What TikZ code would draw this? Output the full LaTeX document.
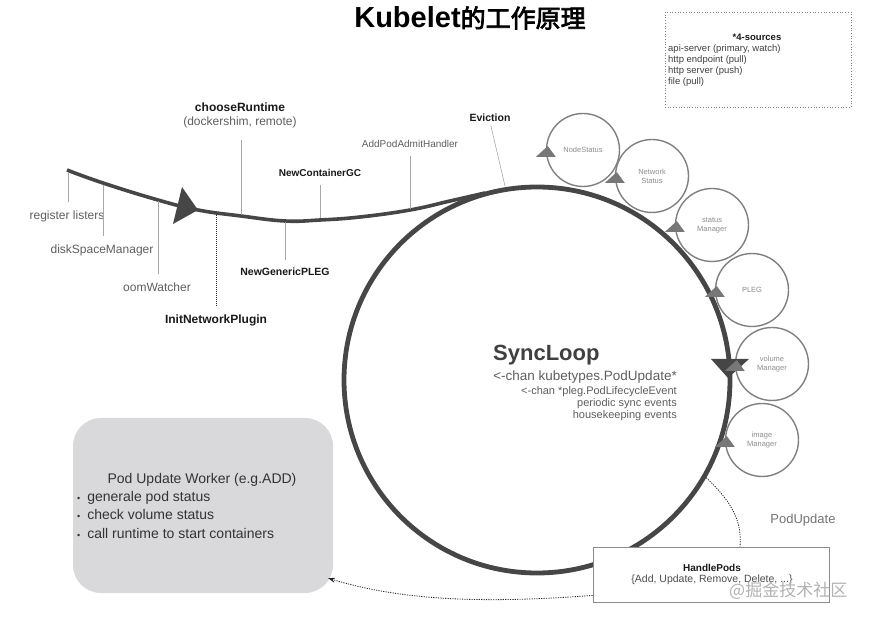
\documentclass[tikz,border=0pt]{standalone}
\usepackage{fontspec}
\setmainfont{Liberation Sans}
\newfontfamily\cjkfont[AutoFakeBold=3]{Noto Sans CJK SC}
\usetikzlibrary{positioning,arrows.meta,calc}
\definecolor{loopgray}{HTML}{464646}
\definecolor{labelgray}{HTML}{5E5E5E}
\definecolor{tickgray}{HTML}{A8A8A8}
\definecolor{workergray}{HTML}{D9D9DB}
\definecolor{markgray}{HTML}{777777}
\tikzstyle{lbl}=[text=labelgray, inner sep=0pt, font=\fontsize{12}{14}\selectfont]
\tikzstyle{blbl}=[text=black!90, inner sep=0pt, font=\bfseries\fontsize{10.5}{12}\selectfont]
\tikzstyle{tick}=[draw=tickgray, line width=0.6pt, shorten >=8pt]
\tikzstyle{loopline}=[draw=loopgray, line width=4.8pt]
\tikzstyle{agent}=[circle, draw=black!50, line width=1.4pt, minimum size=73pt, inner sep=0pt, text=black!45, align=center, font=\fontsize{7.5}{9}\selectfont]
\tikzstyle{dotline}=[draw=black!85, line width=0.8pt, dash pattern=on 1.2pt off 1.2pt]
\tikzstyle{wtext}=[text=black!80, inner sep=0pt, text height=10pt, text depth=3pt, font=\fontsize{14}{16}\selectfont]
\tikzset{
  uptri/.pic={\fill[markgray] (-10,7) -- (10,7) -- (2,-4) -- cycle;},
  downtri/.pic={\fill[loopgray] (-19,-4) -- (19,-4) -- (-2,15) -- cycle;}
}

\begin{document}
\begin{tikzpicture}[x=1pt,y=-1pt]
\useasboundingbox (0,0) rectangle (873,617);

% title
\node (title) at (470,18) {\bfseries\fontsize{29}{30}\selectfont Kubelet\cjkfont\fontsize{25}{26}\selectfont 的工作原理};

% sources
\node[draw=black!50, dotted, line width=0.7pt, minimum width=186pt, minimum height=95pt] (sources) at (758,59.5) {};
\node[blbl, font=\bfseries\fontsize{9.5}{11}\selectfont] (sourcestitle) at (757,37) {*4-sources};
\node[lbl, text=black!75, font=\fontsize{9.5}{11.3}\selectfont, anchor=north west, align=left] (sourcelist) at (668,44) {api-server (primary, watch)\\http endpoint (pull)\\http server (push)\\file (pull)};

% loop and entry curve
\node[circle, loopline, minimum size=386pt, inner sep=0pt] (syncloop) at (537,380) {};
\draw[loopline, line width=3.6pt] plot[smooth, tension=0.7] coordinates {(67,170) (103,183) (158,200) (198,210) (241,216) (285,221) (320,220) (360,217) (410,210) (450,201) (485,193)};
\fill[loopgray] (198,210) -- (173,224) -- (182,187) -- cycle;

\coordinate (onreg) at (68,172);
\coordinate (ondisk) at (103,185);
\coordinate (onoom) at (158,201);
\coordinate (oninit) at (216,215);
\coordinate (onchoose) at (241,215);
\coordinate (onpleg) at (285,222);
\coordinate (ongc) at (320,218);
\coordinate (onadmit) at (410,209);
\coordinate (onevict) at (505,186);

\node[lbl] (reglisters) at (67,216) {register listers};
\node[lbl] (diskspace) at (102,250) {diskSpaceManager};
\node[lbl] (oomwatcher) at (157,287) {oomWatcher};
\node[blbl, font=\bfseries\fontsize{12}{14}\selectfont] (initnet) at (216,320) {InitNetworkPlugin};
\node[blbl, font=\bfseries\fontsize{12}{14}\selectfont] (chooseruntime) at (240,107) {chooseRuntime};
\node[lbl] (runtimes) at (240,122) {(dockershim, remote)};
\node[blbl] (newpleg) at (285,272) {NewGenericPLEG};
\node[blbl, font=\bfseries\fontsize{10}{12}\selectfont] (newgc) at (320,173) {NewContainerGC};
\node[lbl, font=\fontsize{10}{12}\selectfont] (admit) at (410,144) {AddPodAdmitHandler};
\node[blbl] (eviction) at (490,118) {Eviction};

\draw[tick] (onreg) -- (onreg |- reglisters.north);
\draw[tick] (ondisk) -- (ondisk |- diskspace.north);
\draw[tick] (onoom) -- (onoom |- oomwatcher.north);
\draw[dotline, line width=1pt, dash pattern=on 1pt off 1pt, shorten >=8pt] (oninit) -- (initnet.north);
\draw[tick, shorten >=12pt] (onchoose) -- (onchoose |- runtimes.south);
\draw[tick] (onpleg) -- (onpleg |- newpleg.north);
\draw[tick] (ongc) -- (ongc |- newgc.south);
\draw[tick] (onadmit) -- (onadmit |- admit.south);
\draw[tick, shorten >=4pt] (onevict) -- (eviction.south);

% agents round the loop
\node[agent] (nodestatus) at (583,150) {NodeStatus};
\node[agent] (netstatus) at (652,176) {Network\\Status};
\node[agent] (statusmgr) at (712,225) {status\\Manager};
\node[agent] (pleg) at (752,290) {PLEG};
\node[agent] (volumemgr) at (772,364) {volume\\Manager};
\node[agent] (imagemgr) at (762,440) {image\\Manager};
\pic at (730,363) {downtri};
\foreach \a in {nodestatus,netstatus,statusmgr,pleg,volumemgr,imagemgr}
  \pic at (\a.west) {uptri};

% syncloop text
\node[anchor=base west, inner sep=0pt, text=black!75, font=\bfseries\fontsize{22}{24}\selectfont] (synctitle) at (493,361) {SyncLoop};
\node[lbl, anchor=base east, font=\fontsize{13.5}{15}\selectfont] (chanupdate) at (677,381) {<-chan kubetypes.PodUpdate*};
\node[lbl, anchor=base east, font=\fontsize{11}{13}\selectfont] (chanpleg) at (677,395) {<-chan *pleg.PodLifecycleEvent};
\node[lbl, anchor=base east, font=\fontsize{11}{13}\selectfont] (syncevents) at (677,407) {periodic sync events};
\node[lbl, anchor=base east, font=\fontsize{11}{13}\selectfont] (housekeeping) at (677,419) {housekeeping events};

% worker
\node[rectangle, rounded corners=28pt, fill=workergray, minimum width=260pt, minimum height=175pt] (worker) at (203,505.5) {};
\node[wtext] (workertitle) at (202,480) {Pod Update Worker (e.g.ADD)};
\node[wtext, anchor=west] (bulletone) at (77,498) {{\fontsize{9}{9}\selectfont\textbullet}\hspace{7pt}generale pod status};
\node[wtext, below=5pt of bulletone.south west, anchor=north west] (bullettwo) {{\fontsize{9}{9}\selectfont\textbullet}\hspace{7pt}check volume status};
\node[wtext, below=5pt of bullettwo.south west, anchor=north west] (bulletthree) {{\fontsize{9}{9}\selectfont\textbullet}\hspace{7pt}call runtime to start containers};

% handle pods
\node[draw=black!45, line width=0.8pt, fill=white, minimum width=236pt, minimum height=55pt] (handle) at (711,574.5) {};
\node[blbl, font=\bfseries\fontsize{10}{12}\selectfont] (handletitle) at (712,568) {HandlePods};
\node[lbl, text=black!70, font=\fontsize{10.5}{12}\selectfont] (handleops) at (712,580) {\{Add, Update, Remove, Delete, ...\}};
\node[lbl, text=black!55, font=\fontsize{13}{15}\selectfont] (podupdate) at (803,520) {PodUpdate};

\draw[dotline] (syncloop.-30) .. controls (733,503) and (742,522) .. (740,0 |- handle.north);
\draw[dotline, -{Stealth[length=7pt, width=5pt]}] ($(handle.south west)+(0,-7)$) .. controls (480,604) and (400,600) .. ($(worker.south east)+(-5,-15)$);

\node[anchor=west, inner sep=0pt, text=black!30, font=\cjkfont\fontsize{17}{18}\selectfont] (watermark) at (729,591) {@掘金技术社区};

\end{tikzpicture}
\end{document}
